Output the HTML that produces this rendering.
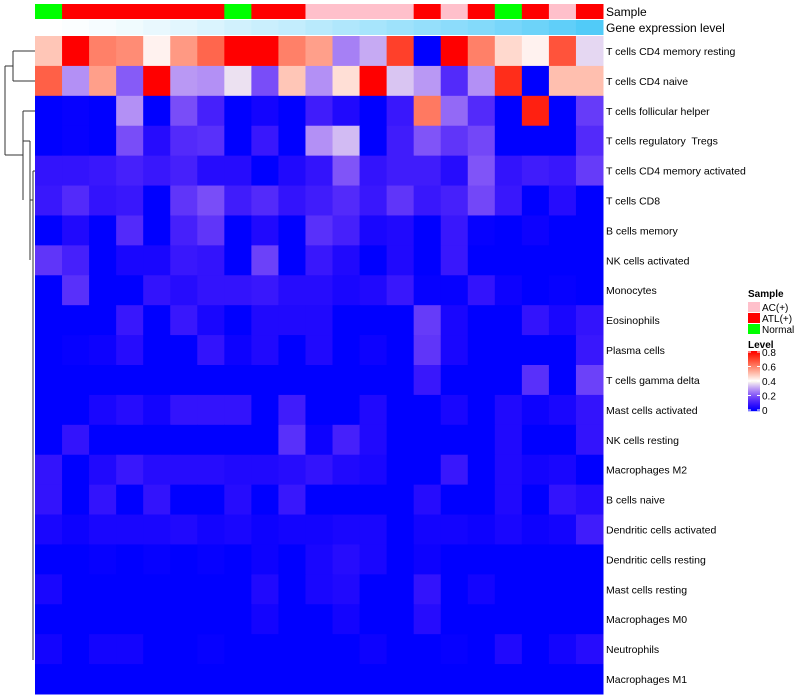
<!DOCTYPE html>
<html><head><meta charset="utf-8"><style>
body{margin:0;background:#fff;}
svg{display:block;font-family:"Liberation Sans",sans-serif;}
text{white-space:pre;}
</style></head><body>
<svg id="c" width="800" height="700"></svg>
<script>
const rowLabels=["T cells CD4 memory resting","T cells CD4 naive","T cells follicular helper","T cells regulatory  Tregs","T cells CD4 memory activated","T cells CD8","B cells memory","NK cells activated","Monocytes","Eosinophils","Plasma cells","T cells gamma delta","Mast cells activated","NK cells resting","Macrophages M2","B cells naive","Dendritic cells activated","Dendritic cells resting","Mast cells resting","Macrophages M0","Neutrophils","Macrophages M1"];
const sampleGroups=["Normal","ATL","ATL","ATL","ATL","ATL","ATL","Normal","ATL","ATL","AC","AC","AC","AC","ATL","AC","ATL","Normal","ATL","AC","ATL"];
const geneLevels=[0,0.02,0.05,0.08,0.12,0.16,0.2,0.25,0.29,0.33,0.38,0.43,0.48,0.53,0.58,0.63,0.68,0.74,0.8,0.87,0.95];
const values=[
[0.49,0.8,0.6,0.58,0.42,0.56,0.64,0.8,0.8,0.6,0.55,0.26,0.31,0.7,0,0.8,0.6,0.46,0.42,0.67,0.36],
[0.65,0.28,0.55,0.21,0.8,0.29,0.28,0.37,0.19,0.49,0.28,0.45,0.8,0.34,0.29,0.13,0.28,0.73,0,0.5,0.5],
[0,0.01,0,0.28,0,0.19,0.11,0,0.03,0,0.1,0.05,0,0.09,0.61,0.23,0.13,0,0.75,0,0.16],
[0,0.01,0,0.19,0.06,0.13,0.14,0,0.09,0,0.28,0.33,0,0.1,0.2,0.15,0.18,0,0,0,0.13],
[0.08,0.08,0.09,0.11,0.09,0.11,0.06,0.06,0,0.05,0.08,0.2,0.08,0.1,0.1,0.06,0.2,0.08,0.1,0.09,0.16],
[0.09,0.13,0.08,0.09,0,0.15,0.19,0.1,0.13,0.08,0.1,0.13,0.09,0.15,0.09,0.11,0.18,0.09,0,0.06,0],
[0,0.05,0,0.13,0,0.11,0.15,0,0.05,0,0.14,0.11,0.04,0.05,0,0.09,0.01,0,0.02,0,0],
[0.15,0.11,0,0.04,0.04,0.09,0.08,0,0.17,0,0.09,0.05,0,0.05,0,0.09,0,0,0,0,0],
[0,0.14,0,0,0.08,0.06,0.08,0.08,0.09,0.06,0.06,0.04,0.05,0.09,0.01,0.01,0.08,0.02,0,0.01,0],
[0,0,0,0.09,0,0.09,0.04,0,0.05,0.05,0.05,0,0,0,0.16,0.04,0,0,0.08,0.04,0.08],
[0,0.01,0.02,0.06,0,0,0.08,0.02,0.05,0,0.05,0,0.02,0,0.15,0.04,0,0,0,0,0.09],
[0,0,0,0,0,0,0,0,0,0,0,0,0,0,0.09,0,0,0,0.14,0,0.17],
[0,0,0.04,0.06,0.03,0.08,0.08,0.08,0,0.1,0,0,0.05,0,0,0.04,0,0.05,0.02,0.04,0.08],
[0,0.08,0,0,0,0,0,0,0,0.14,0.02,0.11,0.05,0,0,0,0,0.05,0,0,0.08],
[0.08,0,0.05,0.09,0.06,0.06,0.06,0.05,0.05,0.06,0.08,0.05,0.04,0,0,0.09,0,0.05,0.03,0.04,0],
[0.08,0,0.08,0,0.08,0,0,0.06,0,0.09,0,0,0,0,0.06,0,0,0.05,0,0.08,0.06],
[0.04,0.02,0.04,0.04,0.04,0.05,0.03,0.04,0.02,0.03,0.03,0.04,0.04,0,0.03,0.03,0.02,0.04,0.02,0.03,0.1],
[0,0,0.01,0,0.01,0,0.01,0,0.02,0,0.04,0.06,0.04,0,0.02,0,0,0,0,0,0],
[0.04,0,0,0,0,0,0,0,0.05,0,0.04,0.05,0,0,0.08,0,0.03,0,0,0,0],
[0,0,0,0,0,0,0,0,0.03,0,0,0.03,0,0,0.06,0,0,0,0,0,0],
[0.03,0,0.03,0.03,0,0,0.01,0,0,0,0,0,0.02,0,0,0.01,0,0.05,0,0.03,0.06],
[0,0,0,0,0,0,0,0,0,0,0,0,0,0,0,0,0,0,0,0,0]
];
const groupColors={AC:"#FFC0CB",ATL:"#FF0000",Normal:"#00FF00"};
const svg=document.getElementById('c');
const NS="http://www.w3.org/2000/svg";
const X0=35,X1=603,Y0=36,Y1=694;
const nC=values[0].length,nR=values.length;
const cw=(X1-X0)/nC,rh=(Y1-Y0)/nR;
function xs(i){return X0+i*cw;}
function ys(j){return Y0+j*rh;}
function mk(t,a){const e=document.createElementNS(NS,t);for(const k in a)e.setAttribute(k,a[k]);svg.appendChild(e);return e;}
function col(v){v=Math.max(0,Math.min(0.8,v));
 if(v<=0.4){const t=v/0.4;const r=Math.round(255*t),g=Math.round(255*Math.pow(t,1.6)),b=Math.round(255-15*t);return `rgb(${r},${g},${b})`;}
 const t=1-(v-0.4)/0.4;const g=Math.round(255*t),b=Math.round(255*Math.pow(t,1.3));return `rgb(255,${g},${b})`;}
function gcol(v){const r=Math.round(255+(72-255)*v),g=Math.round(255+(200-255)*v),b=Math.round(255+(248-255)*v);return `rgb(${r},${g},${b})`;}
for(let i=0;i<nC;i++){
 const a=mk('rect',{x:xs(i),y:4,width:cw+0.5,height:15,fill:groupColors[sampleGroups[i]]});
 
 
 const g=mk('rect',{x:xs(i),y:20,width:cw+0.5,height:15,fill:gcol(geneLevels[i])});
 
 
}
for(let j=0;j<nR;j++){
 for(let i=0;i<nC;i++){
  const r=mk('rect',{x:xs(i),y:ys(j),width:cw+0.5,height:rh+0.5,fill:col(values[j][i])});
  
  
 }
 const t=mk('text',{x:606,y:ys(j)+rh/2+4,'font-size':10.5,fill:'#000'});
 t.textContent=rowLabels[j];
 
 
}
const t1=mk('text',{x:606,y:16,'font-size':12});t1.textContent="Sample";


const t2=mk('text',{x:606,y:32,'font-size':12});t2.textContent="Gene expression level";


const dl=[[13,51,13,81],[13,51,35,51],[13,81,35,81],[5,66,13,66],[5,66,5,155],[5,155,23,155],[23,111,23,200],[23,111,35,111],[23,141,30,141],[30,141,30,260],[30,200,33,200],[33,171,33,660],[33,171,35,171]];
dl.forEach(d=>{const l=mk('line',{x1:d[0],y1:d[1],x2:d[2],y2:d[3],stroke:'#333','stroke-width':1});
 
 });
const lg=mk('text',{x:748,y:297,'font-size':10,'font-weight':'bold'});lg.textContent="Sample";


["AC","ATL","Normal"].forEach((k,i)=>{
 const r=mk('rect',{x:748,y:302+i*11,width:12,height:10,fill:groupColors[k]});
 
 
 const t=mk('text',{x:762,y:311+i*11,'font-size':10});t.textContent=["AC(+)","ATL(+)","Normal"][i];
 
 
});
const lt=mk('text',{x:748,y:348,'font-size':10,'font-weight':'bold'});lt.textContent="Level";


for(let k=0;k<60;k++){const v=0.8*(1-k/59);
 const r=mk('rect',{x:748,y:351+k,width:12,height:1.2,fill:col(v)});
 
 }
["0.8","0.6","0.4","0.2","0"].forEach((s,i)=>{
 const y=352+i*14.5;
 mk('line',{x1:748,y1:y,x2:751,y2:y,stroke:'#fff'});mk('line',{x1:757,y1:y,x2:760,y2:y,stroke:'#fff'});
 const t=mk('text',{x:762,y:y+4,'font-size':10});t.textContent=s;
 
 
});
</script>
</body></html>
